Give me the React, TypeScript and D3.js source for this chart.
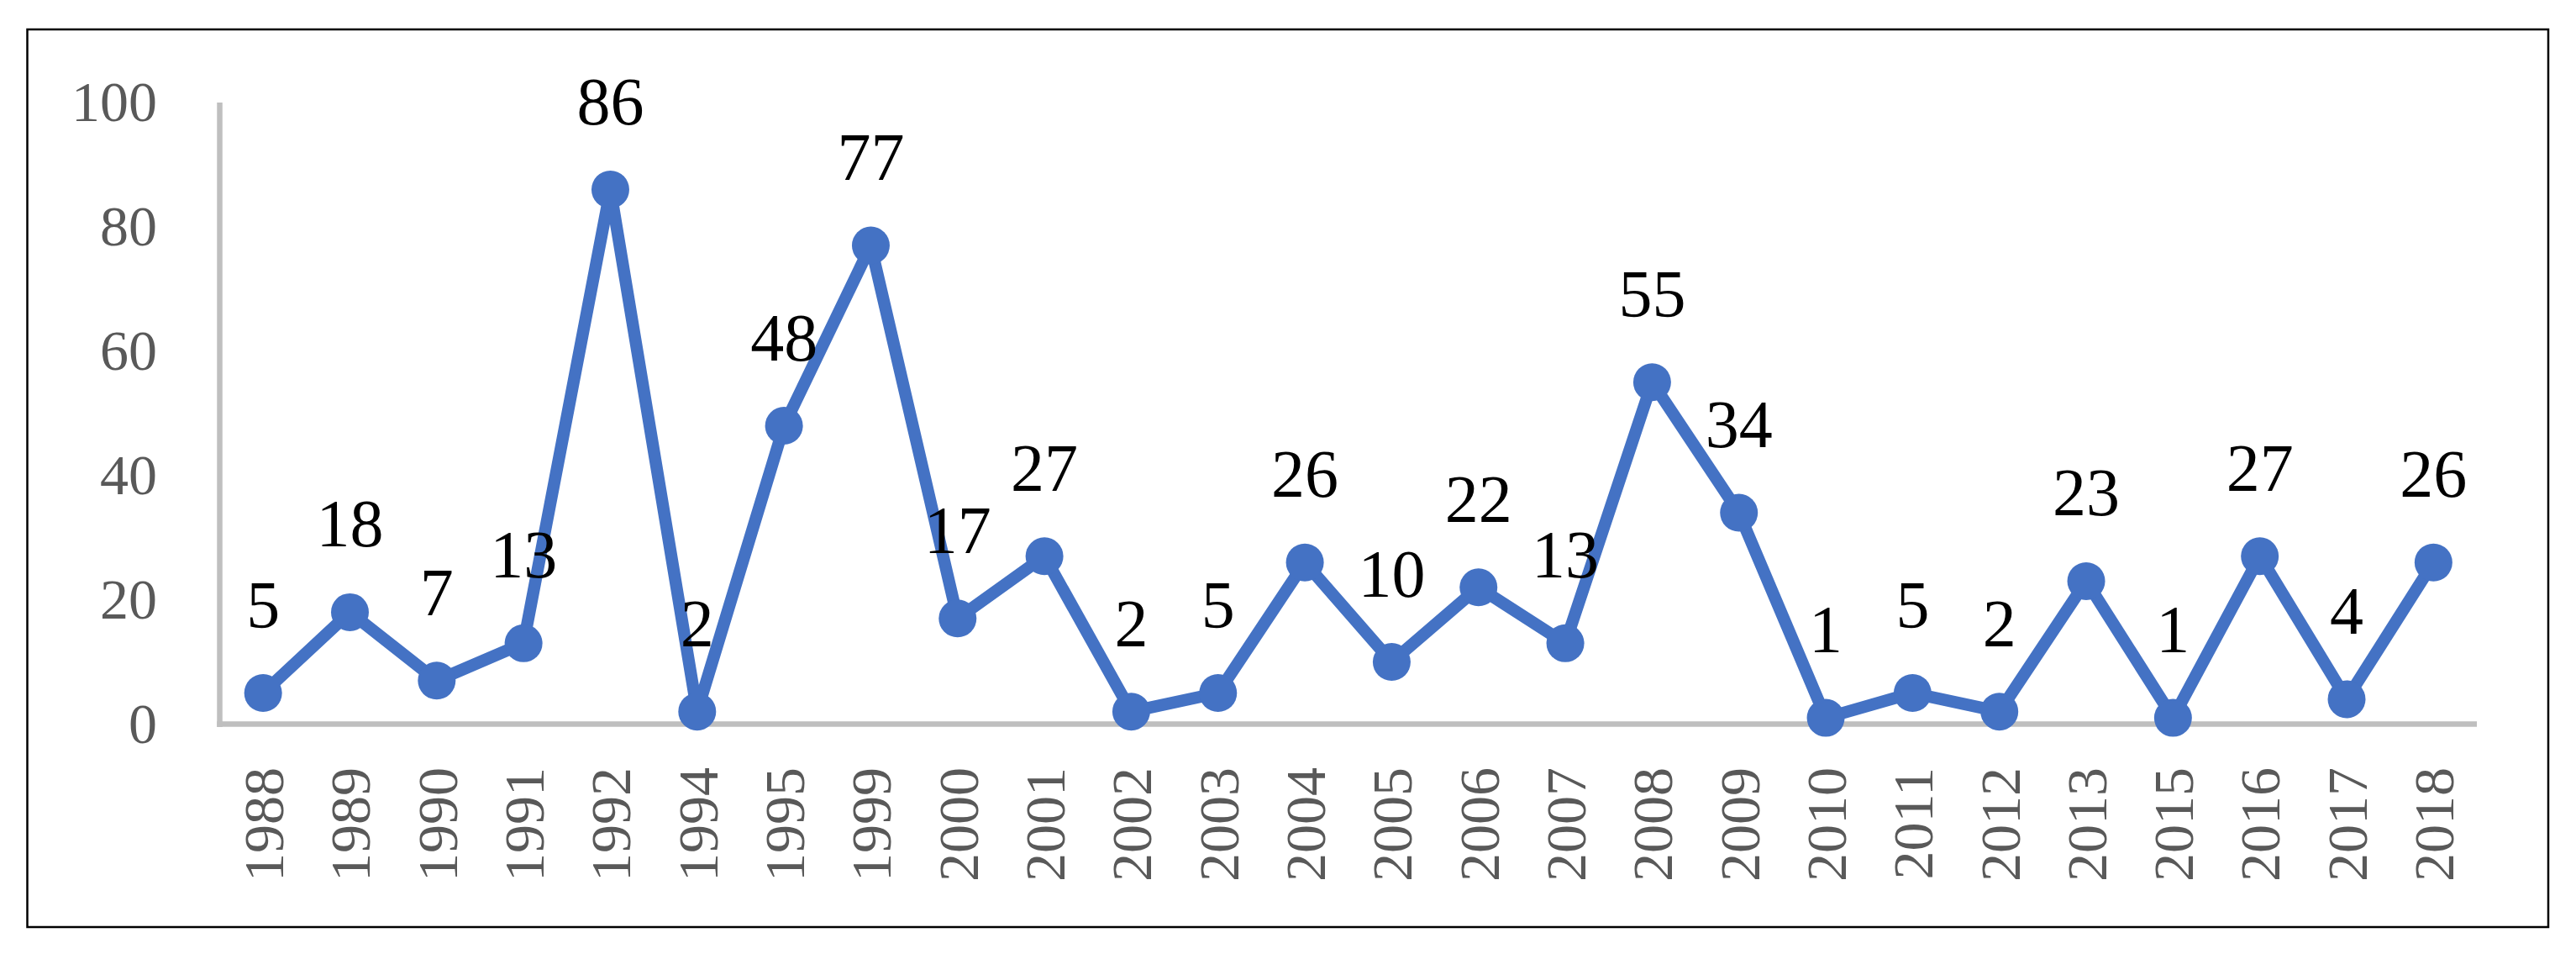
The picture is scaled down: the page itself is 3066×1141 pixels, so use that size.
import React from "react";
import * as d3 from "d3";

const categories: string[] = [
  "1988", "1989", "1990", "1991", "1992", "1994", "1995", "1999", "2000", "2001",
  "2002", "2003", "2004", "2005", "2006", "2007", "2008", "2009", "2010", "2011",
  "2012", "2013", "2015", "2016", "2017", "2018",
];
const values: number[] = [
  5, 18, 7, 13, 86, 2, 48, 77, 17, 27,
  2, 5, 26, 10, 22, 13, 55, 34, 1, 5,
  2, 23, 1, 27, 4, 26,
];
const yTicks: number[] = [0, 20, 40, 60, 80, 100];

const W = 3066;
const H = 1141;
const plotLeft = 261.5;
const plotRight = 2948;
const plotTop = 122;
const plotBottom = 861.5;
const BLUE = "#4472C4";
const AXIS = "#BFBFBF";
const TICK = "#595959";
const FONT = "'Liberation Serif', 'Times New Roman', serif";

export default function App() {
  const x = d3.scaleBand<string>().domain(categories).range([plotLeft, plotRight]).padding(0);
  const y = d3.scaleLinear().domain([0, 100]).range([plotBottom, plotTop]);
  const cx = (c: string) => (x(c) as number) + x.bandwidth() / 2;
  const data = categories.map((c, i) => ({ c, v: values[i] }));
  const line = d3
    .line<{ c: string; v: number }>()
    .x((d) => cx(d.c))
    .y((d) => y(d.v));

  return (
    <svg
      width={W}
      height={H}
      style={{ position: "absolute", left: 0, top: 0, background: "#fff" }}
    >
      <rect x={0} y={0} width={W} height={H} fill="#fff" />
      <rect x={32.5} y={35} width={3000.5} height={1068} fill="none" stroke="#000" strokeWidth={2.5} />
      {/* axes */}
      <line x1={plotLeft} x2={plotLeft} y1={plotTop} y2={plotBottom + 3.5} stroke={AXIS} strokeWidth={6.5} />
      <line x1={plotLeft - 3.25} x2={plotRight} y1={plotBottom} y2={plotBottom} stroke={AXIS} strokeWidth={6.5} />
      {/* y tick labels */}
      {yTicks.map((t) => (
        <text
          key={t}
          x={187}
          y={y(t)}
          dy="0.33em"
          textAnchor="end"
          fontFamily={FONT}
          fontSize={68}
          fill={TICK}
        >
          {t}
        </text>
      ))}
      {/* x tick labels */}
      {categories.map((c) => (
        <text
          key={c}
          transform={`translate(${cx(c)},913) rotate(-90)`}
          dy="0.35em"
          textAnchor="end"
          fontFamily={FONT}
          fontSize={68}
          fill={TICK}
        >
          {c}
        </text>
      ))}
      {/* line */}
      <path d={line(data) || ""} fill="none" stroke={BLUE} strokeWidth={14.5} strokeLinejoin="round" />
      {data.map((d) => (
        <circle key={d.c} cx={cx(d.c)} cy={y(d.v)} r={22.5} fill={BLUE} />
      ))}
      {/* data labels */}
      {data.map((d) => (
        <text
          key={"l" + d.c}
          x={cx(d.c)}
          y={y(d.v) - 78}
          textAnchor="middle"
          fontFamily={FONT}
          fontSize={80}
          fill="#000"
        >
          {d.v}
        </text>
      ))}
    </svg>
  );
}
